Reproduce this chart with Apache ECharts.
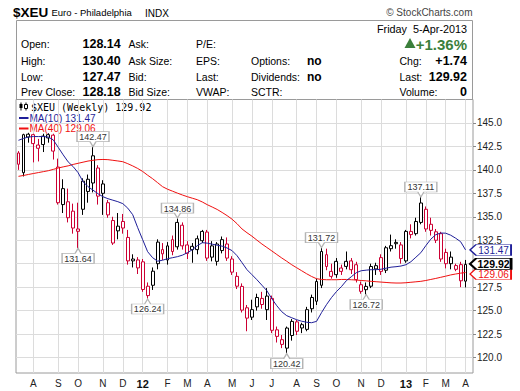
<!DOCTYPE html>
<html><head><meta charset="utf-8">
<script src="https://cdn.jsdelivr.net/npm/echarts@6/dist/echarts.min.js"></script>
<style>html,body{margin:0;padding:0;background:#fff;}#c{width:520px;height:391px;}</style>
</head><body><div id="c"></div>
<script>
// ---------- data ----------
const firstWeek = '2011-07-15';
const weekCount = 92; // 91 weekly candles + one empty slot on the right
const opens  = [141.8,139.7,143.5,143.75,142.3,142.7,143.4,143.7,140.3,136.3,136.6,135.6,133.45,135.8,137.7,138.6,140.2,138.5,136.5,134.6,133.5,134.5,132.8,130.3,130.4,130.2,127.6,127.7,130.0,131.05,130.4,132.56,131.8,134.1,132.0,131.5,131.5,132.45,133.37,130.7,130.25,131.4,132.1,130.5,128.65,127.58,125.3,124.3,125.4,126.3,125.1,126.3,122.95,121.9,121.0,122.35,123.8,123.5,123.0,125.2,126.0,127.7,130.96,129.18,128.83,129.54,129.71,130.3,129.89,127.76,127.23,127.6,129.44,130.65,129.3,131.6,132.13,132.0,130.3,133.44,133.2,134.4,135.8,134.2,133.4,133.2,131.2,130.0,129.4,129.9,128.14];
const closes = [140.6,143.75,143.8,142.8,142.65,143.6,143.75,142.0,136.5,138.0,134.9,133.8,133.7,138.8,139.0,141.5,137.2,137.5,135.2,132.2,134.0,133.8,130.3,130.5,129.55,127.25,126.6,129.2,132.3,131.5,131.9,131.3,134.4,131.9,131.1,131.85,132.66,133.44,130.6,131.9,132.1,132.56,130.6,129.1,127.6,125.05,124.2,125.1,126.4,125.65,126.55,122.9,122.25,121.4,123.14,123.85,122.8,123.15,125.1,126.4,128.1,131.3,129.7,128.65,130.25,129.18,130.25,129.36,128.3,127.05,127.58,129.7,129.79,129.18,131.7,131.92,132.27,130.55,133.44,133.1,134.5,136.47,133.7,133.55,132.5,130.5,130.0,130.7,129.8,128.18,129.92];
const lows   = [140.0,139.3,142.9,140.8,140.9,141.9,142.9,141.1,136.3,135.4,134.4,133.2,131.64,135.2,136.5,137.6,136.3,135.2,134.9,132.0,132.6,133.2,129.9,129.6,128.9,127.0,126.24,127.2,129.4,130.4,129.9,130.9,131.5,131.5,130.5,130.1,131.0,132.2,130.3,130.25,129.8,131.1,130.3,128.8,127.3,124.8,122.8,124.0,125.0,125.2,124.0,122.6,121.6,121.0,120.42,121.8,122.4,122.6,122.8,124.8,125.6,127.4,129.3,128.4,128.5,128.8,129.4,128.9,128.0,126.8,126.72,127.4,128.8,128.8,129.0,131.3,131.6,130.0,130.1,132.7,133.0,134.2,133.4,133.0,132.2,130.2,129.5,129.4,129.2,127.5,127.47];
const highs  = [142.0,143.85,143.95,143.85,143.3,143.85,143.9,143.85,141.2,139.0,138.0,136.4,136.5,139.1,139.5,142.47,140.5,138.9,136.8,135.0,135.4,135.3,133.6,131.0,130.7,130.5,128.0,129.6,132.6,132.2,132.3,133.0,134.86,134.4,132.4,132.2,133.0,133.6,133.6,132.4,132.3,132.9,132.8,130.8,129.1,127.9,125.6,126.16,126.8,127.0,127.4,126.6,123.3,122.4,123.3,124.1,124.0,123.7,125.4,126.7,128.4,131.72,131.6,130.0,130.6,129.9,131.3,130.6,130.2,128.1,128.0,130.0,130.1,131.0,131.9,133.1,132.6,132.3,133.6,134.2,134.9,137.11,136.1,134.9,133.7,133.4,131.6,131.3,130.0,130.2,130.40];
const ma10 = [143.15,143.35,143.5,143.55,143.55,143.55,143.5,143.2,142.4,141.6,140.85,140.35,139.70,138.74,138.21,137.84,137.46,137.14,136.93,136.77,136.61,136.40,135.92,135.22,133.84,132.56,131.28,130.64,130.27,130.37,130.53,130.64,130.75,130.91,131.17,131.49,131.92,132.24,132.19,132.08,131.97,131.87,131.67,131.39,130.85,130.11,129.36,128.83,128.29,127.71,127.12,126.27,125.52,124.88,124.46,124.24,124.03,123.87,123.76,123.71,123.85,124.78,125.63,126.38,127.02,127.55,128.19,128.61,129.04,129.25,129.31,129.36,129.36,129.41,129.52,129.63,129.68,129.75,129.89,130.21,130.69,131.17,131.92,132.61,133.09,133.27,133.25,133.04,132.72,132.35,131.47];
const ma40 = [139.31,139.40,139.51,139.61,139.71,139.81,139.91,140.05,140.20,140.32,140.43,140.58,140.70,140.82,140.94,141.02,141.09,141.11,141.09,141.02,140.95,140.87,140.66,140.42,140.15,139.83,139.43,139.06,138.64,138.21,137.94,137.73,137.52,137.32,137.14,136.98,136.82,136.58,136.29,136.04,135.78,135.46,135.12,134.74,134.26,133.70,133.30,132.93,132.51,132.10,131.73,131.36,130.98,130.61,130.26,129.89,129.57,129.25,128.93,128.64,128.40,128.32,128.29,128.29,128.29,128.32,128.32,128.29,128.26,128.21,128.17,128.12,128.08,128.04,128.00,127.96,127.94,127.94,127.97,128.02,128.07,128.12,128.21,128.32,128.43,128.55,128.67,128.80,128.90,128.99,129.06];
const yTicks = [120,122.5,125,127.5,130,132.5,135,137.5,140,142.5,145];
const monthLetters = ['J','F','M','A','M','J','J','A','S','O','N','D'];
const highNoteWeeks = ['2011-10-28','2012-02-24','2012-09-14','2013-02-01'];
const highNoteValues = [142.47,134.86,131.72,137.11];
const lowNoteWeeks = ['2011-10-07','2012-01-13','2012-07-27','2012-11-16'];
const lowNoteValues = [131.64,126.24,120.42,126.72];
const quoteLabels = [['Open:','High:','Low:','Prev Close:'],['Ask:','Ask Size:','Bid:','Bid Size:'],['P/E:','EPS:','Last:','VWAP:'],['','Options:','Dividends:','SCTR:']];
const quoteValues = ['128.14','130.40','127.47','128.18'];
const flagValues = ['','no','no',''];
const quoteDate = 'Friday  5-Apr-2013';
const pctChange = '+1.36%';
const chgValue = '+1.74';
const lastValue = '129.92';
const volumeValue = '0';

// ---------- derived ----------
const DAY = 86400000;
const weeks = [];
const t0 = Date.parse(firstWeek);
for (let i = 0; i < weekCount; i++) weeks.push(new Date(t0 + i * 7 * DAY).toISOString().slice(0, 10));
const monday = weeks.map(w => new Date(Date.parse(w) - 4 * DAY));
const isMonthStart = weeks.map((w, i) => i > 0 && monday[i].getUTCMonth() !== monday[i - 1].getUTCMonth());
const RED = '#cc0033', BLK = '#000000', NAVY = '#1f1f99', MARED = '#f01010';
const FONT = '"Liberation Sans", Arial, sans-serif';
const candleData = opens.map((o, i) => {
  const c = closes[i];
  const prev = i > 0 ? closes[i - 1] : o;
  const col = c < prev ? RED : BLK;
  return { value: [o, c, lows[i], highs[i]], itemStyle: { color: '#ffffff', color0: col, borderColor: col, borderColor0: col } };
});
const last = closes.length - 1;
const lastWeek = weeks[last];

const calloutUp = 'path://M0,0 L32,0 L32,10 L19,10 L16,15 L13,10 L0,10 Z';
const calloutDown = 'path://M16,0 L19,5 L32,5 L32,15 L0,15 L0,5 L13,5 Z';
const notes = [];
highNoteWeeks.forEach((w, k) => notes.push({ coord: [w, highNoteValues[k]], symbol: calloutUp, symbolSize: [32, 15], symbolOffset: [0, -7.5], label: { formatter: highNoteValues[k].toFixed(2), offset: [0, -2] } }));
lowNoteWeeks.forEach((w, k) => notes.push({ coord: [w, lowNoteValues[k]], symbol: calloutDown, symbolSize: [32, 15], symbolOffset: [0, 7.5], label: { formatter: lowNoteValues[k].toFixed(2), offset: [0, 3] } }));

const tagPath = 'path://M0,5.5 L6,0 L41,0 L41,11 L6,11 Z';
function tag(v, color, bold, dy) {
  return { coord: [lastWeek, v], symbol: tagPath, symbolSize: [41, 11], symbolOffset: [25, dy],
    itemStyle: { color: '#ffffff', borderColor: color, borderWidth: bold ? 1.5 : 1 },
    label: { show: true, position: 'inside', formatter: v.toFixed(2), color: bold ? '#000' : color, fontWeight: bold ? 'bold' : 'normal', fontSize: bold ? 10.5 : 10, fontFamily: FONT, offset: [3, 0.5] } };
}

// ---------- header graphics ----------
const g = [];
function txt(x, y, text, font, fill, align) {
  g.push({ type: 'text', x: x, y: y, silent: true, style: { text: text, font: font, fill: fill || '#000', align: align || 'left', verticalAlign: 'middle' } });
}
txt(13, 12, '$XEU', 'bold 13.5px ' + FONT);
txt(51.5, 12.5, 'Euro - Philadelphia', '9.5px ' + FONT);
txt(145, 13, 'INDX', '10px ' + FONT);
txt(472.5, 12.5, '\u00a9 StockCharts.com', '10px ' + FONT, '#444', 'right');
g.push({ type: 'rect', silent: true, shape: { x: 16.5, y: 20.5, width: 456, height: 79 }, style: { fill: 'none', stroke: '#9a9a9a', lineWidth: 1 } });
const rowsY = [43.5, 61, 76.5, 92];
const colX = [21, 128.5, 196, 251];
quoteLabels.forEach((col, c) => col.forEach((t, r) => { if (t) txt(colX[c], rowsY[r], t, '10.5px ' + FONT); }));
quoteValues.forEach((v, r) => txt(82.5, rowsY[r], v, 'bold 12.5px ' + FONT));
flagValues.forEach((v, r) => { if (v) txt(307, rowsY[r], v, 'bold 12px ' + FONT); });
txt(467, 29, quoteDate, '10.8px ' + FONT, '#000', 'right');
g.push({ type: 'polygon', silent: true, shape: { points: [[404.5, 48], [410, 38], [415.5, 48]] }, style: { fill: '#3b7f3b' } });
txt(467, 44, pctChange, 'bold 15px ' + FONT, '#3b7f3b', 'right');
txt(399.5, 61, 'Chg:', '10.5px ' + FONT);
txt(467, 61, chgValue, 'bold 12.5px ' + FONT, '#000', 'right');
txt(399.5, 76.5, 'Last:', '10.5px ' + FONT);
txt(467, 76.5, lastValue, 'bold 12.5px ' + FONT, '#000', 'right');
txt(399.5, 92, 'Volume:', '10.5px ' + FONT);
txt(467, 92, volumeValue, 'bold 12.5px ' + FONT, '#000', 'right');
// legend
g.push({ type: 'line', silent: true, shape: { x1: 21, y1: 102.5, x2: 21, y2: 110.5 }, style: { stroke: '#000', lineWidth: 1 } });
g.push({ type: 'rect', silent: true, shape: { x: 19.5, y: 104, width: 3, height: 4 }, style: { fill: '#000' } });
g.push({ type: 'line', silent: true, shape: { x1: 26, y1: 102.5, x2: 26, y2: 110.5 }, style: { stroke: '#000', lineWidth: 1 } });
g.push({ type: 'rect', silent: true, shape: { x: 24.5, y: 104.5, width: 3, height: 4 }, style: { fill: '#fff', stroke: '#000', lineWidth: 1 } });
txt(31, 107, '$XEU (Weekly) ' + closes[last].toFixed(2), '10px "DejaVu Sans Mono", monospace');
g.push({ type: 'line', silent: true, shape: { x1: 19, y1: 118, x2: 28.5, y2: 118 }, style: { stroke: NAVY, lineWidth: 2 } });
txt(29.5, 118, 'MA(10) ' + ma10[last].toFixed(2), '10px ' + FONT, NAVY);
g.push({ type: 'line', silent: true, shape: { x1: 19, y1: 128.5, x2: 28.5, y2: 128.5 }, style: { stroke: MARED, lineWidth: 2 } });
txt(29.5, 128.5, 'MA(40) ' + ma40[last].toFixed(2), '10px ' + FONT, MARED);

// ---------- chart ----------
const chart = echarts.init(document.getElementById('c'), null, { renderer: 'svg' });
chart.setOption({
  animation: false,
  backgroundColor: '#ffffff',
  grid: { left: 16, right: 47, top: 99.5, bottom: 18, show: true, borderColor: '#9a9a9a', borderWidth: 1, backgroundColor: '#ffffff' },
  xAxis: {
    type: 'category', data: weeks, boundaryGap: true,
    axisLine: { show: false }, axisTick: { show: false },
    axisLabel: {
      interval: (i) => isMonthStart[i], margin: 5, color: '#222', fontSize: 10, fontFamily: FONT,
      formatter: (v, i) => { const m = monday[i].getUTCMonth(); return m === 0 ? '{y|' + String(monday[i].getUTCFullYear()).slice(2) + '}' : monthLetters[m]; },
      rich: { y: { fontWeight: 'bold', fontSize: 11, fontFamily: FONT, color: '#111' } }
    },
    splitLine: { show: true, interval: (i) => isMonthStart[i], alignWithLabel: true, lineStyle: { color: '#dcdcdc', width: 1 } }
  },
  yAxis: {
    type: 'value', position: 'right', min: 118.35, max: 147.5,
    axisLine: { show: false },
    axisTick: { show: true, length: 3, customValues: yTicks, lineStyle: { color: '#888' } },
    axisLabel: { customValues: yTicks, formatter: (v) => v.toFixed(1), color: '#222', fontSize: 10, fontFamily: FONT, margin: 4 },
    splitLine: { show: true, lineStyle: { color: '#dcdcdc', width: 1 } }
  },
  series: [
    { type: 'line', name: 'MA(40)', data: ma40, symbol: 'none', z: 3, silent: true, clip: false,
      lineStyle: { color: MARED, width: 1 },
      markPoint: { z: 5, silent: true, data: [tag(ma40[last], MARED, false, 1.5)] } },
    { type: 'line', name: 'MA(10)', data: ma10, symbol: 'none', z: 3, silent: true, clip: false,
      lineStyle: { color: NAVY, width: 1 },
      markPoint: { z: 5, silent: true, data: [tag(ma10[last], NAVY, false, 0)] } },
    { type: 'candlestick', name: '$XEU', data: candleData, barWidth: 3.4, z: 2, silent: true, clip: true,
      itemStyle: { borderWidth: 1 },
      markPoint: { z: 6, silent: true,
        itemStyle: { color: '#ffffff', borderColor: '#b4b4b4', borderWidth: 1 },
        label: { show: true, position: 'inside', color: '#333', fontSize: 9, fontFamily: FONT },
        data: notes.concat([tag(closes[last], BLK, true, -0.5)]) } }
  ],
  graphic: g
});
</script></body></html>
